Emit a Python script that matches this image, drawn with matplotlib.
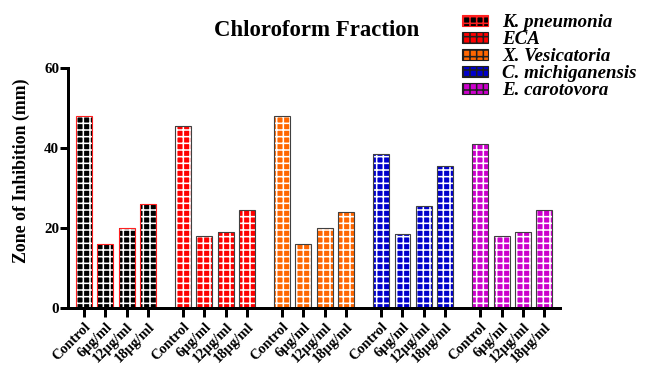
import numpy as np
import matplotlib.pyplot as plt
from matplotlib.patches import Patch

plt.rcParams['font.family'] = 'Liberation Serif'
plt.rcParams['font.weight'] = 'bold'
plt.rcParams['hatch.linewidth'] = 1.4

strains = ['K. pneumonia', 'ECA', 'X. Vesicatoria', 'C. michiganensis', 'E. carotovora']
doses = ['Control', '6µg/ml', '12µg/ml', '18µg/ml']
colors = ['#000000', '#ff0000', '#ff6600', '#0000cc', '#cc00cc']
edges = ['#ff2020', '#404040', '#404040', '#404040', '#404040']

kpn = [48, 16, 20, 26]
eca = [45.5, 18, 19, 24.5]
xves = [48, 16, 20, 24]
cmich = [38.5, 18.5, 25.5, 35.5]
ecar = [41, 18, 19, 24.5]
values = [kpn, eca, xves, cmich, ecar]

group_step = 4.65
width = 0.75

# dpi 80 keeps the hatch grid coarse (one hatch tile = 80 px)
fig = plt.figure(figsize=(649 / 80, 367 / 80), dpi=80)
ax = fig.add_axes([0.105, 0.161, 0.758, 0.654])

xticks, xlabels = [], []
for g, vals in enumerate(values):
    x = g * group_step + np.arange(len(doses))
    # white grid fill, then the coloured outline on top
    ax.bar(x, vals, width, color=colors[g], edgecolor='white', linewidth=0, hatch='++')
    ax.bar(x, vals, width, color='none', edgecolor=edges[g], linewidth=1.0)
    xticks += list(x)
    xlabels += doses

ax.set_xlim(-0.75, 4 * group_step + 3 + 0.75)
ax.set_ylim(0, 60)
ax.set_yticks([0, 20, 40, 60])
ax.set_xticks(xticks)
ax.set_xticklabels(xlabels, rotation=45, ha='right', rotation_mode='anchor', fontsize=13)
ax.tick_params(axis='y', labelsize=13.5, width=2.7, length=7, pad=1)
ax.tick_params(axis='x', width=2.7, length=8, pad=3)
for s in ['top', 'right']:
    ax.spines[s].set_visible(False)
for s in ['left', 'bottom']:
    ax.spines[s].set_linewidth(2.7)
ax.set_ylabel('Zone of Inhibition (mm)', fontsize=16, fontweight='bold')
ax.yaxis.set_label_coords(-0.077, 0.57)

fig.text(0.488, 0.918, 'Chloroform Fraction', ha='center', va='center', fontsize=20.5, fontweight='bold')

handles = [Patch(facecolor=colors[i], edgecolor='white', hatch='++', linewidth=0) for i in range(5)]
leg = fig.legend(handles, strains, loc='upper left', bbox_to_anchor=(0.686, 1.008), frameon=False,
                 prop={'family': 'Liberation Serif', 'style': 'italic', 'weight': 'bold', 'size': 17},
                 labelspacing=0.0, handlelength=1.38, handleheight=0.53, handletextpad=0.74)
# outlines for the legend keys
for h, e in zip(leg.legend_handles, ['#ff2020'] + ['#202020'] * 4):
    h.set_edgecolor(e)
    h.set_linewidth(1.0)

plt.savefig('out.png', dpi=80)
